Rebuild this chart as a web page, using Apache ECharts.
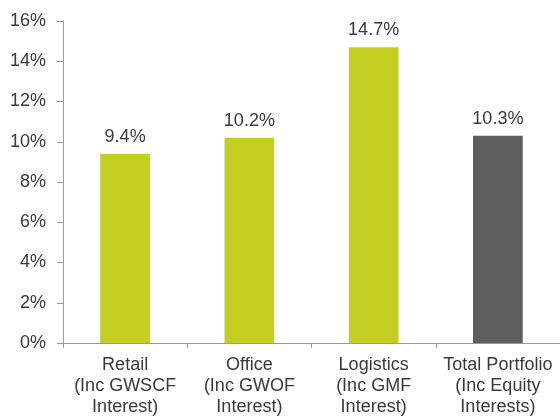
<!DOCTYPE html>
<html><head><meta charset="utf-8">
<script src="https://cdn.jsdelivr.net/npm/echarts@6/dist/echarts.min.js"></script>
<style>html,body{margin:0;padding:0;background:#fff}#c{width:560px;height:418px}</style>
</head><body><div id="c"></div>
<script>
const categories = ['Retail\n(Inc GWSCF\nInterest)', 'Office\n(Inc GWOF\nInterest)', 'Logistics\n(Inc GMF\nInterest)', 'Total Portfolio\n(Inc Equity\nInterests)'];
const values = [9.4, 10.2, 14.7, 10.3];
const barColors = ['#c3cd22', '#c3cd22', '#c3cd22', '#5e5e5e'];
const yTicks = { min: 0, max: 16, interval: 2 };

const chart = echarts.init(document.getElementById('c'), null, { renderer: 'canvas' });
chart.setOption({
  animation: false,
  grid: { left: 63, right: -3, top: 21, bottom: 73, containLabel: false },
  xAxis: {
    type: 'category', data: categories,
    axisLine: { lineStyle: { color: '#9a9a9a', width: 1 } },
    axisTick: { show: true, length: 5, lineStyle: { color: '#9a9a9a' } },
    axisLabel: { color: '#3a3a3a', fontFamily: 'Liberation Sans, Arial', fontSize: 18, lineHeight: 21, margin: 12, interval: 0 }
  },
  yAxis: {
    type: 'value', min: yTicks.min, max: yTicks.max, interval: yTicks.interval,
    axisLine: { show: true, lineStyle: { color: '#9a9a9a', width: 1 } },
    axisTick: { show: true, length: 6, lineStyle: { color: '#9a9a9a' } },
    splitLine: { show: false },
    axisLabel: { color: '#3a3a3a', fontFamily: 'Liberation Sans, Arial', fontSize: 18, margin: 17, formatter: v => v + '%' }
  },
  series: [{
    type: 'bar', barWidth: '40%',
    data: values.map((v, i) => ({ value: v, itemStyle: { color: barColors[i] } })),
    label: { show: true, position: 'top', distance: 8, color: '#3a3a3a', fontFamily: 'Liberation Sans, Arial', fontSize: 18, formatter: p => p.value.toFixed(1) + '%' }
  }]
});
</script></body></html>
